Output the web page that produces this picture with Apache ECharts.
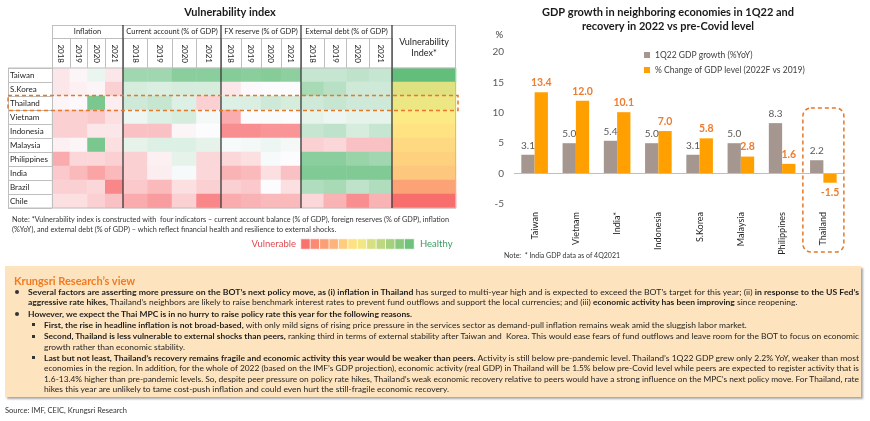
<!DOCTYPE html>
<html><head><meta charset="utf-8">
<script src="https://cdn.jsdelivr.net/npm/echarts@6/dist/echarts.min.js"></script>
<style>
html,body{margin:0;padding:0;background:#fff;}
body{width:870px;height:421px;position:relative;overflow:hidden;font-family:Lato,'Noto Sans',sans-serif;}
#chart{position:absolute;left:0;top:0;width:870px;height:421px;}
#box{position:absolute;left:5px;top:266px;width:856px;height:131px;background:#fde4bf;box-shadow:2px 2px 2px rgba(0,0,0,0.35);}
.ln{position:absolute;white-space:nowrap;font-size:8px;line-height:10px;color:#1e1e1e;transform-origin:0 50%;}
.ln b{font-weight:700;}
.dot{position:absolute;width:4px;height:4px;border-radius:50%;background:#333;}
.sq{position:absolute;width:3px;height:3px;background:#333;}
</style></head><body>
<div id="chart"></div>
<div id="box"></div>
<div class="ln" style="left:14px;top:273.5px;font-size:11px;line-height:14px;color:#f07b22;font-weight:700">Krungsri Research’s view</div>
<div class="dot" style="left:15px;top:289.5px"></div>
<div class="ln" data-g="m" data-w="831" style="left:28px;top:286.5px"><b>Several factors are asserting more pressure on the BOT’s next policy move, as (i) inflation in Thailand</b> has surged to multi-year high and is expected to exceed the BOT’s target for this year; (ii) <b>in response to the US Fed’s</b></div>
<div class="ln" data-g="m" style="left:28px;top:296.5px"><b>aggressive rate hikes,</b> Thailand’s neighbors are likely to raise benchmark interest rates to prevent fund outflows and support the local currencies; and (iii) <b>economic activity has been improving</b> since reopening.</div>
<div class="dot" style="left:15px;top:312px"></div>
<div class="ln" data-g="m" style="left:28px;top:309px"><b>However, we expect the Thai MPC is in no hurry to raise policy rate this year for the following reasons.</b></div>
<div class="sq" style="left:32px;top:323px"></div>
<div class="ln" data-g="m" style="left:44px;top:319.5px"><b>First, the rise in headline inflation is not broad-based,</b> with only mild signs of rising price pressure in the services sector as demand-pull inflation remains weak amid the sluggish labor market.</div>
<div class="sq" style="left:32px;top:334.5px"></div>
<div class="ln" data-g="m" data-w="815" style="left:44px;top:331px"><b>Second, Thailand is less vulnerable to external shocks than peers,</b> ranking third in terms of external stability after Taiwan and&nbsp; Korea. This would ease fears of fund outflows and leave room for the BOT to focus on economic</div>
<div class="ln" data-g="m" style="left:44px;top:341.5px">growth rather than economic stability.</div>
<div class="sq" style="left:32px;top:356px"></div>
<div class="ln" data-g="m" data-w="815" style="left:44px;top:352.5px"><b>Last but not least, Thailand’s recovery remains fragile and economic activity this year would be weaker than peers.</b> Activity is still below pre-pandemic level. Thailand’s 1Q22 GDP grew only 2.2% YoY, weaker than most</div>
<div class="ln" data-g="m" data-w="815" style="left:44px;top:363px">economies in the region. In addition, for the whole of 2022 (based on the IMF’s GDP projection), economic activity (real GDP) in Thailand will be 1.5% below pre-Covid level while peers are expected to register activity that is</div>
<div class="ln" data-g="m" data-w="815" style="left:44px;top:373.5px">1.6-13.4% higher than pre-pandemic levels. So, despite peer pressure on policy rate hikes, Thailand’s weak economic recovery relative to peers would have a strong influence on the MPC’s next policy move. For Thailand, rate</div>
<div class="ln" data-g="m" style="left:44px;top:384px">hikes this year are unlikely to tame cost-push inflation and could even hurt the still-fragile economic recovery.</div>
<div class="ln" style="left:5px;top:406px;font-size:7.5px;color:#333">Source: IMF, CEIC, Krungsri Research</div>
<div class="ln" data-g="n" data-w="437" style="left:12px;top:214px;font-size:7px;color:#333">Note: *Vulnerability index is constructed with&nbsp; four indicators – current account balance (% of GDP), foreign reserves (% of GDP), inflation</div>
<div class="ln" data-g="n" style="left:12px;top:223.5px;font-size:7px;color:#333">(%YoY), and external debt (% of GDP) – which reflect financial health and resilience to external shocks.</div>
<script>
// ---------- Vulnerability heatmap data ----------
const countries = ['Taiwan','S.Korea','Thailand','Vietnam','Indonesia','Malaysia','Philippines','India','Brazil','Chile'];
const years = ['2018','2019','2020','2021'];
const indicatorGroups = ['Inflation','Current account (% of GDP)','FX reserve (% of GDP)','External debt (% of GDP)'];
// scores: -1 = vulnerable (red) ... +1 = healthy (green); rows follow countries, columns follow years
const inflationScores = [
  [-0.15,-0.05, 0.12,-0.15],
  [-0.15,-0.08,-0.05,-0.30],
  [-0.05,-0.02, 0.85,-0.10],
  [-0.30,-0.30,-0.35,-0.20],
  [-0.30,-0.30,-0.15,-0.15],
  [-0.08,-0.05, 0.85,-0.20],
  [-0.55,-0.25,-0.25,-0.30],
  [-0.35,-0.45,-0.60,-0.45],
  [-0.30,-0.30,-0.25,-0.80],
  [-0.20,-0.20,-0.30,-0.40]
];
const currentAccountScores = [
  [ 0.60, 0.60, 0.75, 0.75],
  [ 0.25, 0.22, 0.25, 0.25],
  [ 0.30, 0.35, 0.20,-0.30],
  [ 0.10, 0.20, 0.25, 0.05],
  [-0.40,-0.40,-0.05, 0.00],
  [ 0.15, 0.20, 0.20, 0.15],
  [-0.30,-0.08, 0.15,-0.25],
  [-0.30,-0.10, 0.03,-0.25],
  [-0.35,-0.45,-0.20,-0.30],
  [-0.55,-0.65,-0.30,-0.80]
];
const fxReserveScores = [
  [ 0.78, 0.75, 0.78, 0.72],
  [-0.15,-0.03, 0.00, 0.00],
  [ 0.20, 0.22, 0.30, 0.25],
  [-0.55, 0.00, 0.02, 0.00],
  [-0.75,-0.75,-0.70,-0.70],
  [ 0.03, 0.05, 0.10, 0.05],
  [-0.25,-0.20, 0.03, 0.00],
  [-0.50,-0.45,-0.20,-0.40],
  [-0.30,-0.35, 0.00,-0.20],
  [-0.55,-0.50,-0.45,-0.45]
];
const externalDebtScores = [
  [ 0.35, 0.35, 0.40, 0.35],
  [ 0.55, 0.45, 0.30, 0.30],
  [ 0.30, 0.35, 0.30, 0.30],
  [ 0.15, 0.10, 0.15, 0.15],
  [ 0.35, 0.40, 0.25, 0.35],
  [-0.30,-0.25,-0.40,-0.40],
  [ 0.75, 0.75, 0.65, 0.60],
  [ 0.80, 0.80, 0.80, 0.80],
  [ 0.50, 0.55, 0.40, 0.50],
  [-0.25,-0.50,-0.75,-0.50]
];
// composite index, 0 = most vulnerable, 100 = healthiest
const vulnerabilityIndex = [100, 60, 56, 51, 47, 43, 40, 36, 22, 2];
const scaleSteps = [4, 13, 21, 29, 38, 46, 54, 63, 71, 79, 88, 96];

// ---------- GDP bar chart data ----------
const gdpCategories = ['Taiwan','Vietnam','India*','Indonesia','S.Korea','Malaysia','Philippines','Thailand'];
const gdpGrowth1Q22 = [3.1, 5.0, 5.4, 5.0, 3.1, 5.0, 8.3, 2.2];
const gdpLevelChange = [13.4, 12.0, 10.1, 7.0, 5.8, 2.8, 1.6, -1.5];
const gdpSeriesNames = ['1Q22 GDP growth (%YoY)', '% Change of GDP level (2022F vs 2019)'];
const gdpAxis = {min: -5, max: 20, interval: 5};

// ---------- text fitting for html lines ----------
(function fit(){
  const groups = {};
  document.querySelectorAll('.ln[data-g]').forEach(el => {
    const g = el.dataset.g; (groups[g] = groups[g] || []).push(el);
  });
  Object.values(groups).forEach(list => {
    const ratios = [];
    list.forEach(el => {
      if (el.dataset.w) {
        const w = el.getBoundingClientRect().width;
        const r = (+el.dataset.w) / w; ratios.push(r);
        el.style.transform = 'scaleX(' + r + ')';
      }
    });
    const avg = ratios.reduce((a,b)=>a+b,0) / ratios.length;
    list.forEach(el => { if (!el.dataset.w) el.style.transform = 'scaleX(' + avg + ')'; });
  });
})();

const FONT = 'Lato, "Noto Sans", sans-serif';
const chart = echarts.init(document.getElementById('chart'), null, {renderer: 'canvas', width: 870, height: 421});

const T = 68, ROW_H = 14, H = ROW_H * countries.length;
const gx = [52, 123, 221, 301, 392, 456];
const groupScores = [inflationScores, currentAccountScores, fxReserveScores, externalDebtScores];
const grids = [], xAxes = [], yAxes = [], series = [];

groupScores.forEach((scores, g) => {
  grids.push({left: gx[g], top: T, width: gx[g+1] - gx[g], height: H, outerBoundsMode: 'none'});
  xAxes.push({type: 'category', gridIndex: g, data: years, position: 'top',
    axisLine: {show: false}, axisTick: {show: true, length: 30, lineStyle: {color: '#bfbfbf'}},
    axisLabel: {rotate: 90, margin: 5, fontSize: 8, color: '#262626', interval: 0, fontFamily: FONT},
    splitLine: {show: false}});
  yAxes.push({type: 'category', gridIndex: g, data: countries, inverse: true,
    axisLine: {show: false},
    axisTick: g === 0 ? {show: true, length: 44, lineStyle: {color: '#bfbfbf'}} : {show: false},
    axisLabel: g === 0 ? {show: true, align: 'left', margin: 42, fontSize: 8, color: '#1e1e1e', fontFamily: FONT} : {show: false},
    splitLine: {show: false}});
  const data = [];
  scores.forEach((row, r) => row.forEach((v, c) => data.push([c, r, v])));
  series.push({type: 'heatmap', name: indicatorGroups[g], xAxisIndex: g, yAxisIndex: g, data, emphasis: {disabled: true}});
});

// index column
grids.push({left: gx[4], top: T, width: gx[5] - gx[4], height: H, outerBoundsMode: 'none'});
xAxes.push({type: 'category', gridIndex: 4, data: ['Vulnerability Index*'], show: false});
yAxes.push({type: 'category', gridIndex: 4, data: countries, inverse: true, show: false});
series.push({type: 'heatmap', name: 'Vulnerability Index*', xAxisIndex: 4, yAxisIndex: 4,
  data: vulnerabilityIndex.map((v, r) => [0, r, v]), emphasis: {disabled: true}});

// colour key squares
grids.push({left: 301, top: 239, width: 113, height: 10, outerBoundsMode: 'none'});
xAxes.push({type: 'category', gridIndex: 5, data: scaleSteps.map(String), show: false});
yAxes.push({type: 'category', gridIndex: 5, data: ['scale'], show: false});
series.push({type: 'heatmap', name: 'scale', xAxisIndex: 5, yAxisIndex: 5,
  data: scaleSteps.map((v, i) => [i, 0, v]),
  itemStyle: {borderColor: 'rgba(255,255,255,0.75)', borderWidth: 1}, emphasis: {disabled: true}});

// GDP bars
grids.push({left: 514, top: 52, width: 330, height: 152, outerBoundsMode: 'none'});
xAxes.push({type: 'category', gridIndex: 6, data: gdpCategories,
  axisLine: {show: false, onZero: false}, axisTick: {show: false},
  axisLabel: {interval: 0, rotate: 90, margin: 8, fontSize: 9, color: '#262626', fontFamily: FONT}});
yAxes.push({type: 'value', gridIndex: 6, min: gdpAxis.min, max: gdpAxis.max, interval: gdpAxis.interval,
  axisLine: {show: false}, axisTick: {show: false}, splitLine: {show: false},
  axisLabel: {fontSize: 10, color: '#595959', margin: 10, fontFamily: FONT},
  name: '%', nameLocation: 'end', nameGap: 12,
  nameTextStyle: {fontSize: 9.5, color: '#404040', align: 'right', padding: [0, 11, 0, 0], fontFamily: FONT}});

series.push({type: 'bar', name: gdpSeriesNames[0], xAxisIndex: 6, yAxisIndex: 6,
  data: gdpGrowth1Q22, barWidth: 13.3, barGap: '0%', itemStyle: {color: '#a5968f'},
  label: {show: true, position: 'top', distance: 4, fontSize: 10, color: '#595959', fontFamily: FONT,
    formatter: p => Number(p.value).toFixed(1)},
  markLine: {silent: true, symbol: 'none', label: {show: false},
    lineStyle: {color: '#bfbfbf', width: 1, type: 'solid'}, data: [{yAxis: 0}]},
  emphasis: {disabled: true}});
series.push({type: 'bar', name: gdpSeriesNames[1], xAxisIndex: 6, yAxisIndex: 6,
  data: gdpLevelChange.map(v => v < 0 ? {value: v, label: {position: 'bottom'}} : v),
  barWidth: 13.3, barGap: '0%', itemStyle: {color: '#ffa000'},
  label: {show: true, position: 'top', distance: 4, fontSize: 10.5, fontWeight: 'bold', color: '#ed7d31', fontFamily: FONT,
    formatter: p => Number(p.value).toFixed(1)},
  emphasis: {disabled: true}});

chart.setOption({
  animation: false,
  textStyle: {fontFamily: FONT},
  grid: grids, xAxis: xAxes, yAxis: yAxes, series,
  legend: {data: gdpSeriesNames, orient: 'vertical', left: 639, top: 45, itemWidth: 6, itemHeight: 6, itemGap: 5,
    icon: 'rect', selectedMode: false, textStyle: {fontSize: 8.5, color: '#404040', lineHeight: 10, fontFamily: FONT}},
  visualMap: [
    {type: 'continuous', show: false, seriesIndex: [0,1,2,3], min: -1, max: 1,
      inRange: {color: ['#f8696b', '#fcfcff', '#63be7b']}},
    {type: 'continuous', show: false, seriesIndex: [4,5], min: 0, max: 100,
      inRange: {color: ['#f8696b', '#ffeb84', '#63be7b']}}
  ]
});

// ---------- decorations (table frame, headers, titles, highlight boxes) ----------
const gray = '#bfbfbf', dark = '#3a3a3a';
const TOP = 25, MID = 38, B = T + H, L = 8;
const ln = (x1, y1, x2, y2, c, w) => ({type: 'line', shape: {x1, y1, x2, y2}, style: {stroke: c, lineWidth: w || 1}, silent: true, z: 100});
const tx = (x, y, text, o) => ({type: 'text', x, y, silent: true, z: 100,
  style: Object.assign({text, fontFamily: FONT, fontSize: 8, fill: '#262626', textAlign: 'center', textVerticalAlign: 'middle'}, o || {})});
const g = [];
g.push(ln(gx[0], TOP + 0.5, gx[5], TOP + 0.5, gray));
g.push(ln(gx[0], MID + 0.5, gx[4], MID + 0.5, gray));
g.push(ln(L, T, gx[5], T, gray));
g.push(ln(L, B, gx[5], B, gray));
g.push(ln(L + 0.5, T, L + 0.5, B, gray));
g.push(ln(gx[0] + 0.5, TOP, gx[0] + 0.5, B, gray));
g.push(ln(gx[5] - 0.5, TOP, gx[5] - 0.5, B, gray));
for (let i = 1; i <= 4; i++) g.push(ln(gx[i], TOP, gx[i], B, dark, 1.3));
indicatorGroups.forEach((name, i) => g.push(tx((gx[i] + gx[i+1]) / 2, 32, name, {fontSize: 7.5})));
g.push(tx((gx[4] + gx[5]) / 2, 42, 'Vulnerability', {fontSize: 9, fill: '#1e1e1e'}));
g.push(tx((gx[4] + gx[5]) / 2, 53, 'Index*', {fontSize: 9, fill: '#1e1e1e'}));
g.push(tx(230, 12, 'Vulnerability index', {fontSize: 11, fontWeight: 'bold', fill: '#1a1a1a'}));
g.push(tx(668, 12, 'GDP growth in neighboring economies in 1Q22 and', {fontSize: 11, fontWeight: 'bold', fill: '#1a1a1a'}));
g.push(tx(668, 26, 'recovery in 2022 vs pre-Covid level', {fontSize: 11, fontWeight: 'bold', fill: '#1a1a1a'}));
g.push(tx(296, 244, 'Vulnerable', {fontSize: 9.5, fill: '#e04a4f', textAlign: 'right'}));
g.push(tx(420, 244, 'Healthy', {fontSize: 9.5, fill: '#3d9d62', textAlign: 'left'}));
g.push(tx(504, 256, 'Note:  * India GDP data as of 4Q2021', {fontSize: 7, fill: '#333', textAlign: 'left'}));

const thY = chart.convertToPixel({yAxisIndex: 0}, 'Thailand');
g.push({type: 'rect', shape: {x: L, y: thY - 7.5, width: 450, height: 15}, silent: true, z: 110,
  style: {fill: 'none', stroke: '#e4792b', lineWidth: 1.5, lineDash: [4, 3]}});
const thX = chart.convertToPixel({xAxisIndex: 6}, 'Thailand');
g.push({type: 'rect', shape: {x: thX - 20.5, y: 108, width: 41, height: 144, r: 8}, silent: true, z: 110,
  style: {fill: 'none', stroke: '#e4792b', lineWidth: 1.5, lineDash: [4, 3]}});

chart.setOption({graphic: {elements: g}});
</script>
</body></html>
